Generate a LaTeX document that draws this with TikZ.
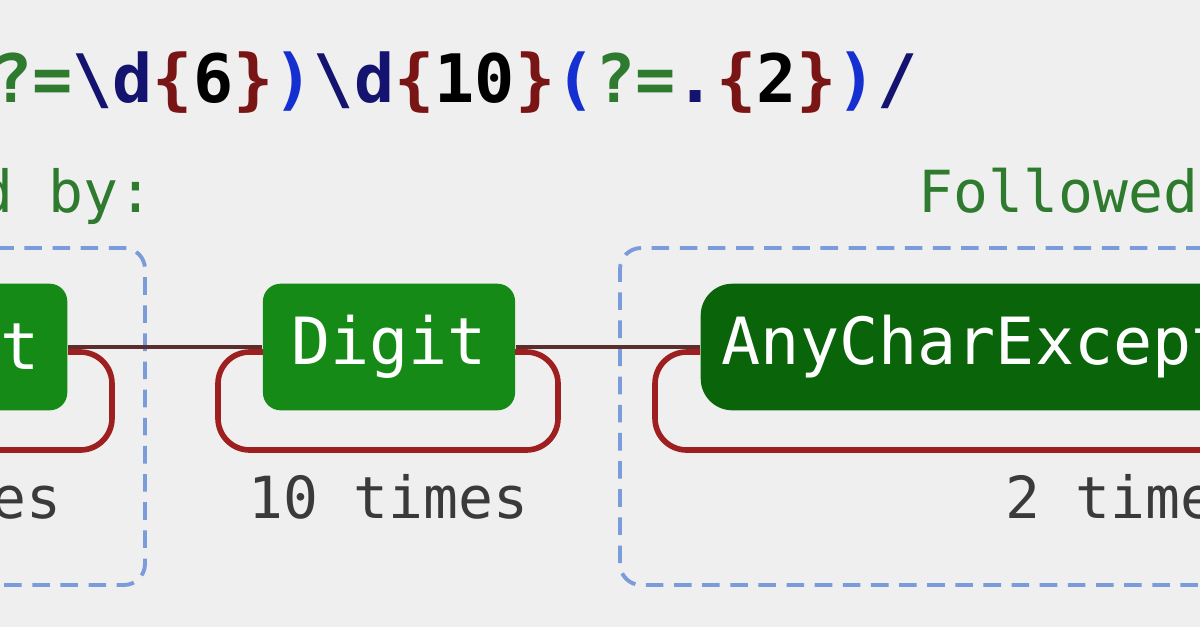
\documentclass[tikz,border=0pt]{standalone}
\usepackage{fontspec}
\setmonofont{DejaVu Sans Mono}
\begin{document}
\begin{tikzpicture}[x=0.01cm,y=-0.01cm,
  grp/.style={draw=colGrp,line width=1.1pt,rounded corners=6pt,dash pattern=on 5pt off 3pt},
  loop/.style={draw=colLoop,line width=1.6pt,rounded corners=9pt},
  conn/.style={draw=colConn,line width=1.4pt},
  nd/.style={fill=colNode,rounded corners=5pt,text=white,font=\ttfamily\fontsize{18.5}{20}\selectfont,inner sep=0pt},
  lbl/.style={font=\ttfamily\fontsize{16.5}{18}\selectfont,text=colTxt},
  grplbl/.style={font=\ttfamily\fontsize{16.5}{18}\selectfont,text=colGreen}]
\definecolor{colBg}{HTML}{EFEFEF}
\definecolor{colGrp}{HTML}{7A9CDB}
\definecolor{colLoop}{HTML}{9E1F1F}
\definecolor{colConn}{HTML}{5A2E2E}
\definecolor{colNode}{HTML}{168A16}
\definecolor{colNodeDk}{HTML}{0A650A}
\definecolor{colTxt}{HTML}{3A3A3A}
\definecolor{colGreen}{HTML}{2E7A2E}
\definecolor{colBlue}{HTML}{1530D0}
\definecolor{colNavy}{HTML}{141470}
\definecolor{colRed}{HTML}{7A1515}
\useasboundingbox (0,0) rectangle (1200,627);
\clip (0,0) rectangle (1200,627);
\fill[colBg] (0,0) rectangle (1200,627);
% regex
\node[anchor=base east,inner sep=0pt,font=\ttfamily\bfseries\fontsize{19}{21}\selectfont] (re) at (918,102)
 {\textcolor{colGreen}{?=}\textcolor{colNavy}{\textbackslash d}\textcolor{colRed}{\{}6\textcolor{colRed}{\}}\textcolor{colBlue}{)}\textcolor{colNavy}{\textbackslash d}\textcolor{colRed}{\{}10\textcolor{colRed}{\}}\textcolor{colBlue}{(}\textcolor{colGreen}{?=}\textcolor{colNavy}{.}\textcolor{colRed}{\{}2\textcolor{colRed}{\}}\textcolor{colBlue}{)}\textcolor{colNavy}{/}};
% groups
\draw[grp] (-60,248) -- (145,248) -- (145,585) -- (-60,585);
\draw[grp] (1260,248) -- (620,248) -- (620,585) -- (1260,585);
\node[grplbl,anchor=base west,inner sep=0pt] (gl1) at (-22,212) {d by:};
\node[grplbl,anchor=base west,inner sep=0pt] (gl2) at (918,212) {Followed};
% loops
\draw[loop] (-40,352) -- (-40,450) -- (112,450) -- (112,352) -- (68,352);
\draw[loop] (263,352) -- (218,352) -- (218,450) -- (558,450) -- (558,352) -- (515,352);
\draw[loop] (700,352) -- (655,352) -- (655,450) -- (1260,450);
% nodes
\node[nd,minimum width=110pt,minimum height=36pt,anchor=east] (n1) at (68,347) {};
\node[font=\ttfamily\fontsize{18.5}{20}\selectfont,text=white,anchor=east,inner sep=0pt] (t) at (40,347) {t};
\node[nd,anchor=center,minimum width=71.7pt,minimum height=36pt] (dig) at (389,347) {Digit};
\node[nd,fill=colNodeDk,minimum height=36pt,anchor=west,rounded corners=9pt,text width=160pt,inner xsep=6pt,align=left] (any) at (700,347) {AnyCharExcept};
% connectors
\draw[conn] (n1.east) -- (dig.west);
\draw[conn] (dig.east) -- (any.west);
% labels
\node[lbl,anchor=base east,inner sep=0pt] (l1) at (62,518) {es};
\node[lbl,anchor=base west,inner sep=0pt] (l2) at (248,518) {10 times};
\node[lbl,anchor=base west,inner sep=0pt] (l3) at (1005,518) {2 times};
\end{tikzpicture}
\end{document}
